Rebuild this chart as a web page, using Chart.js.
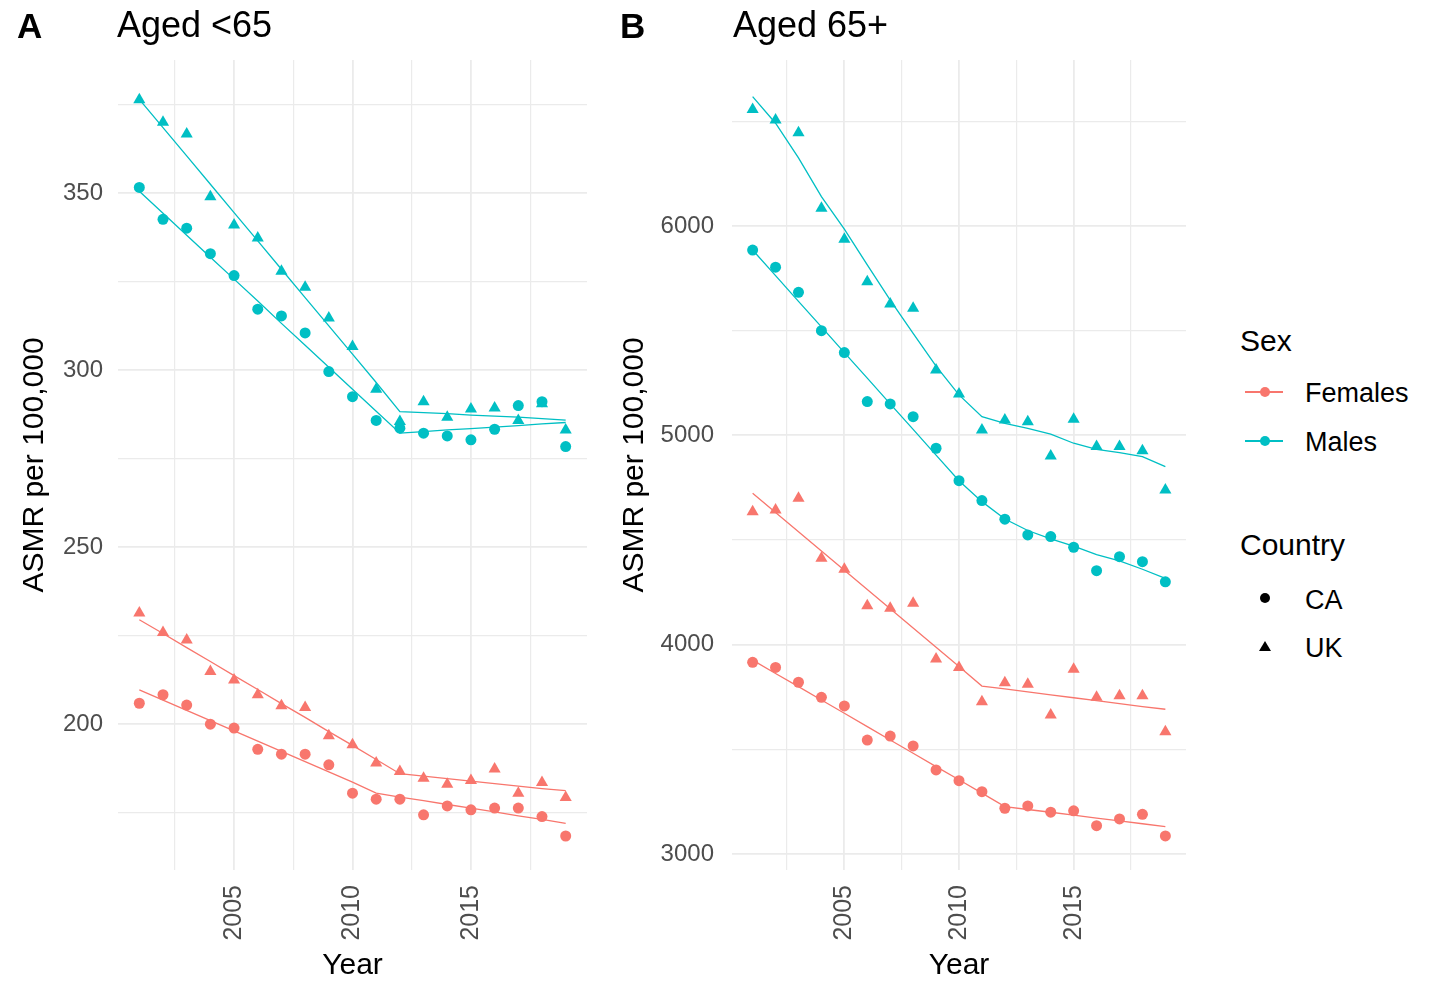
<!DOCTYPE html>
<html>
<head>
<meta charset="utf-8">
<script src="https://cdn.jsdelivr.net/npm/chart.js@4.4.1/dist/chart.umd.min.js"></script>
<style>
body { margin: 0; background: #fff; font-family: "Liberation Sans", Arial, sans-serif; }
#page { position: relative; width: 1438px; height: 984px; overflow: hidden; }
.panel { position: absolute; top: 0; }
.txt { position: absolute; line-height: 1; white-space: nowrap; color: #000; }
.tag { font-weight: bold; font-size: 35px; }
.ttl { font-size: 36px; }
.lgTitle { font-size: 30px; }
.lgItem { font-size: 27px; }
.mark { position: absolute; }
</style>
</head>
<body>
<div id="page">
	<div class="panel" style="left:0"><canvas id="chartA" width="600" height="984"></canvas></div>
	<div class="panel" style="left:600px"><canvas id="chartB" width="600" height="984"></canvas></div>

	<div class="txt tag" style="left:17px;top:8px">A</div>
	<div class="txt ttl" style="left:117px;top:7px">Aged &lt;65</div>
	<div class="txt tag" style="left:620px;top:8px">B</div>
	<div class="txt ttl" style="left:733px;top:7px">Aged 65+</div>

	<!-- legend -->
	<div class="txt lgTitle" style="left:1240px;top:326px">Sex</div>
	<div class="mark" style="left:1245px;top:391px;width:38px;height:1.5px;background:#F8766D"></div>
	<div class="mark" style="left:1260px;top:387px;width:10px;height:10px;border-radius:50%;background:#F8766D"></div>
	<div class="txt lgItem" style="left:1305px;top:380px">Females</div>
	<div class="mark" style="left:1245px;top:440px;width:38px;height:1.5px;background:#00BFC4"></div>
	<div class="mark" style="left:1260px;top:436px;width:10px;height:10px;border-radius:50%;background:#00BFC4"></div>
	<div class="txt lgItem" style="left:1305px;top:429px">Males</div>

	<div class="txt lgTitle" style="left:1240px;top:530px">Country</div>
	<div class="mark" style="left:1260px;top:593px;width:10px;height:10px;border-radius:50%;background:#000"></div>
	<div class="txt lgItem" style="left:1305px;top:587px">CA</div>
	<div class="mark" style="left:1259px;top:641px;width:0;height:0;border-left:6px solid transparent;border-right:6px solid transparent;border-bottom:10px solid #000"></div>
	<div class="txt lgItem" style="left:1305px;top:635px">UK</div>
</div>

<script>
const years = [2001, 2002, 2003, 2004, 2005, 2006, 2007, 2008, 2009, 2010, 2011, 2012, 2013, 2014, 2015, 2016, 2017, 2018, 2019]

// aged <65
const femCaUnder = [205.9, 208.3, 205.4, 200.0, 198.9, 192.9, 191.5, 191.5, 188.5, 180.5, 178.8, 178.8, 174.4, 176.9, 175.8, 176.3, 176.3, 173.9, 168.4]
const femUkUnder = [231.4, 225.9, 223.8, 214.9, 212.5, 208.3, 205.2, 204.7, 196.7, 194.2, 189.0, 186.6, 184.7, 183.0, 184.1, 187.3, 180.5, 183.5, 179.3]
const maleCaUnder = [351.6, 342.6, 340.1, 332.9, 326.7, 317.2, 315.3, 310.5, 299.6, 292.5, 285.8, 283.6, 282.2, 281.4, 280.3, 283.3, 290.0, 291.1, 278.4]
const maleUkUnder = [376.4, 370.0, 366.7, 349.0, 341.0, 337.3, 327.9, 323.4, 314.7, 306.7, 294.6, 285.5, 291.1, 286.7, 289.0, 289.3, 285.8, 290.5, 283.1]
// fitted (segmented) lines, <65
const femCaUnderFit = [209.7, 206.8, 203.9, 201.0, 198.1, 195.2, 192.3, 189.4, 186.5, 183.6, 180.5, 179.4, 178.4, 177.3, 176.3, 175.2, 174.1, 173.1, 172.0]
const femUkUnderFit = [229.5, 225.6, 221.6, 217.7, 213.7, 209.8, 205.8, 201.9, 197.9, 194.0, 190.0, 186.0, 185.3, 184.6, 183.9, 183.2, 182.5, 181.8, 181.2]
const maleCaUnderFit = [350.5, 344.3, 338.1, 331.9, 325.7, 319.5, 313.2, 307.0, 300.8, 294.6, 288.4, 282.2, 282.6, 283.1, 283.5, 283.9, 284.3, 284.8, 285.2]
const maleUkUnderFit = [376.5, 368.5, 360.5, 352.5, 344.5, 336.5, 328.5, 320.5, 312.5, 304.5, 296.5, 288.3, 288.0, 287.7, 287.3, 287.0, 286.7, 286.3, 285.9]

// aged 65+
const femCaOver = [3915, 3891, 3820, 3748, 3707, 3544, 3563, 3516, 3401, 3350, 3297, 3218, 3229, 3199, 3206, 3135, 3167, 3189, 3086]
const femUkOver = [4635, 4643, 4699, 4412, 4360, 4186, 4173, 4197, 3931, 3891, 3727, 3818, 3810, 3664, 3882, 3748, 3756, 3756, 3584]
const maleCaOver = [5885, 5803, 5683, 5500, 5395, 5161, 5150, 5089, 4938, 4783, 4688, 4599, 4524, 4516, 4465, 4353, 4420, 4396, 4300]
const maleUkOver = [6557, 6506, 6446, 6085, 5936, 5734, 5627, 5607, 5312, 5197, 5025, 5073, 5065, 4901, 5076, 4946, 4946, 4926, 4739]
const femCaOverFit = [3926, 3862, 3799, 3735, 3672, 3608, 3544, 3481, 3417, 3354, 3290, 3226, 3212, 3199, 3185, 3171, 3158, 3144, 3130]
const femUkOverFit = [4723, 4631, 4539, 4447, 4355, 4263, 4171, 4079, 3987, 3895, 3802, 3788, 3774, 3760, 3746, 3732, 3718, 3704, 3691]
const maleCaOverFit = [5885, 5763, 5640, 5518, 5395, 5273, 5150, 5028, 4905, 4783, 4683, 4600, 4545, 4505, 4470, 4430, 4400, 4360, 4316]
const maleUkOverFit = [6618, 6491, 6325, 6140, 5985, 5814, 5646, 5487, 5330, 5193, 5089, 5057, 5033, 5006, 4962, 4933, 4917, 4898, 4850]

const xTicks = [2002.5, 2005, 2007.5, 2010, 2012.5, 2015, 2017.5]
const yTicksUnder = [175, 200, 225, 250, 275, 300, 325, 350, 375]
const yTicksOver = [3000, 3500, 4000, 4500, 5000, 5500, 6000, 6500]

const FEMALE = '#F8766D'
const MALE = '#00BFC4'

Chart.defaults.font.family = '"Liberation Sans", Arial, sans-serif'

const pairs = (vals) => years.map((yr, i) => ({ x: yr, y: vals[i] }))

const pointSet = (vals, color, shape) => ({
	data: pairs(vals),
	showLine: false,
	backgroundColor: color,
	borderColor: color,
	pointStyle: shape,
	pointRadius: shape === 'triangle' ? 7 : 5.5,
	pointBorderWidth: 0,
})

const fitSet = (vals, color) => ({
	data: pairs(vals),
	showLine: true,
	borderColor: color,
	borderWidth: 1.3,
	pointRadius: 0,
	fill: false,
})

function makePanel(id, sets, yMin, yMax, yTicks, yMajor, axisWidth, tickPad, rightPad) {
	return new Chart(document.getElementById(id), {
		type: 'scatter',
		data: { datasets: sets },
		options: {
			responsive: false,
			animation: false,
			devicePixelRatio: 1,
			layout: { padding: { top: 60, right: rightPad, left: 0, bottom: 0 } },
			plugins: { legend: { display: false }, tooltip: { enabled: false } },
			scales: {
				x: {
					type: 'linear',
					min: 2000.1,
					max: 2019.9,
					afterBuildTicks: (s) => { s.ticks = xTicks.map((v) => ({ value: v })) },
					afterFit: (s) => { s.height = 114 },
					grid: { color: '#EBEBEB', lineWidth: (c) => (c.tick && c.tick.value % 5 === 0 ? 1.8 : 1.2), drawTicks: false },
					border: { display: false },
					ticks: {
						autoSkip: false,
						minRotation: 90,
						maxRotation: 90,
						padding: 15,
						color: '#4D4D4D',
						font: { size: 25 },
						callback: (v) => (v % 5 === 0 ? String(v) : ''),
					},
					title: { display: true, text: 'Year', color: '#000', font: { size: 30 }, padding: { top: 0, bottom: 0 } },
				},
				y: {
					min: yMin,
					max: yMax,
					afterBuildTicks: (s) => { s.ticks = yTicks.map((v) => ({ value: v })) },
					afterFit: (s) => { s.width = axisWidth },
					grid: { color: '#EBEBEB', lineWidth: (c) => (c.tick && c.tick.value % yMajor === 0 ? 1.8 : 1.2), drawTicks: false },
					border: { display: false },
					ticks: {
						padding: tickPad,
						color: '#4D4D4D',
						font: { size: 24 },
						callback: (v) => (v % yMajor === 0 ? String(v) : ''),
					},
					title: { display: true, text: 'ASMR per 100,000', color: '#000', font: { size: 30 }, padding: { top: 17, bottom: 0 } },
				},
			},
		},
	})
}

makePanel('chartA', [
	fitSet(femCaUnderFit, FEMALE),
	fitSet(femUkUnderFit, FEMALE),
	fitSet(maleCaUnderFit, MALE),
	fitSet(maleUkUnderFit, MALE),
	pointSet(femCaUnder, FEMALE, 'circle'),
	pointSet(femUkUnder, FEMALE, 'triangle'),
	pointSet(maleCaUnder, MALE, 'circle'),
	pointSet(maleUkUnder, MALE, 'triangle'),
], 158.8, 387.6, yTicksUnder, 50, 118, 15, 13)

makePanel('chartB', [
	fitSet(femCaOverFit, FEMALE),
	fitSet(femUkOverFit, FEMALE),
	fitSet(maleCaOverFit, MALE),
	fitSet(maleUkOverFit, MALE),
	pointSet(femCaOver, FEMALE, 'circle'),
	pointSet(femUkOver, FEMALE, 'triangle'),
	pointSet(maleCaOver, MALE, 'circle'),
	pointSet(maleUkOver, MALE, 'triangle'),
], 2923, 6793, yTicksOver, 1000, 132, 18, 14)
</script>
</body>
</html>
